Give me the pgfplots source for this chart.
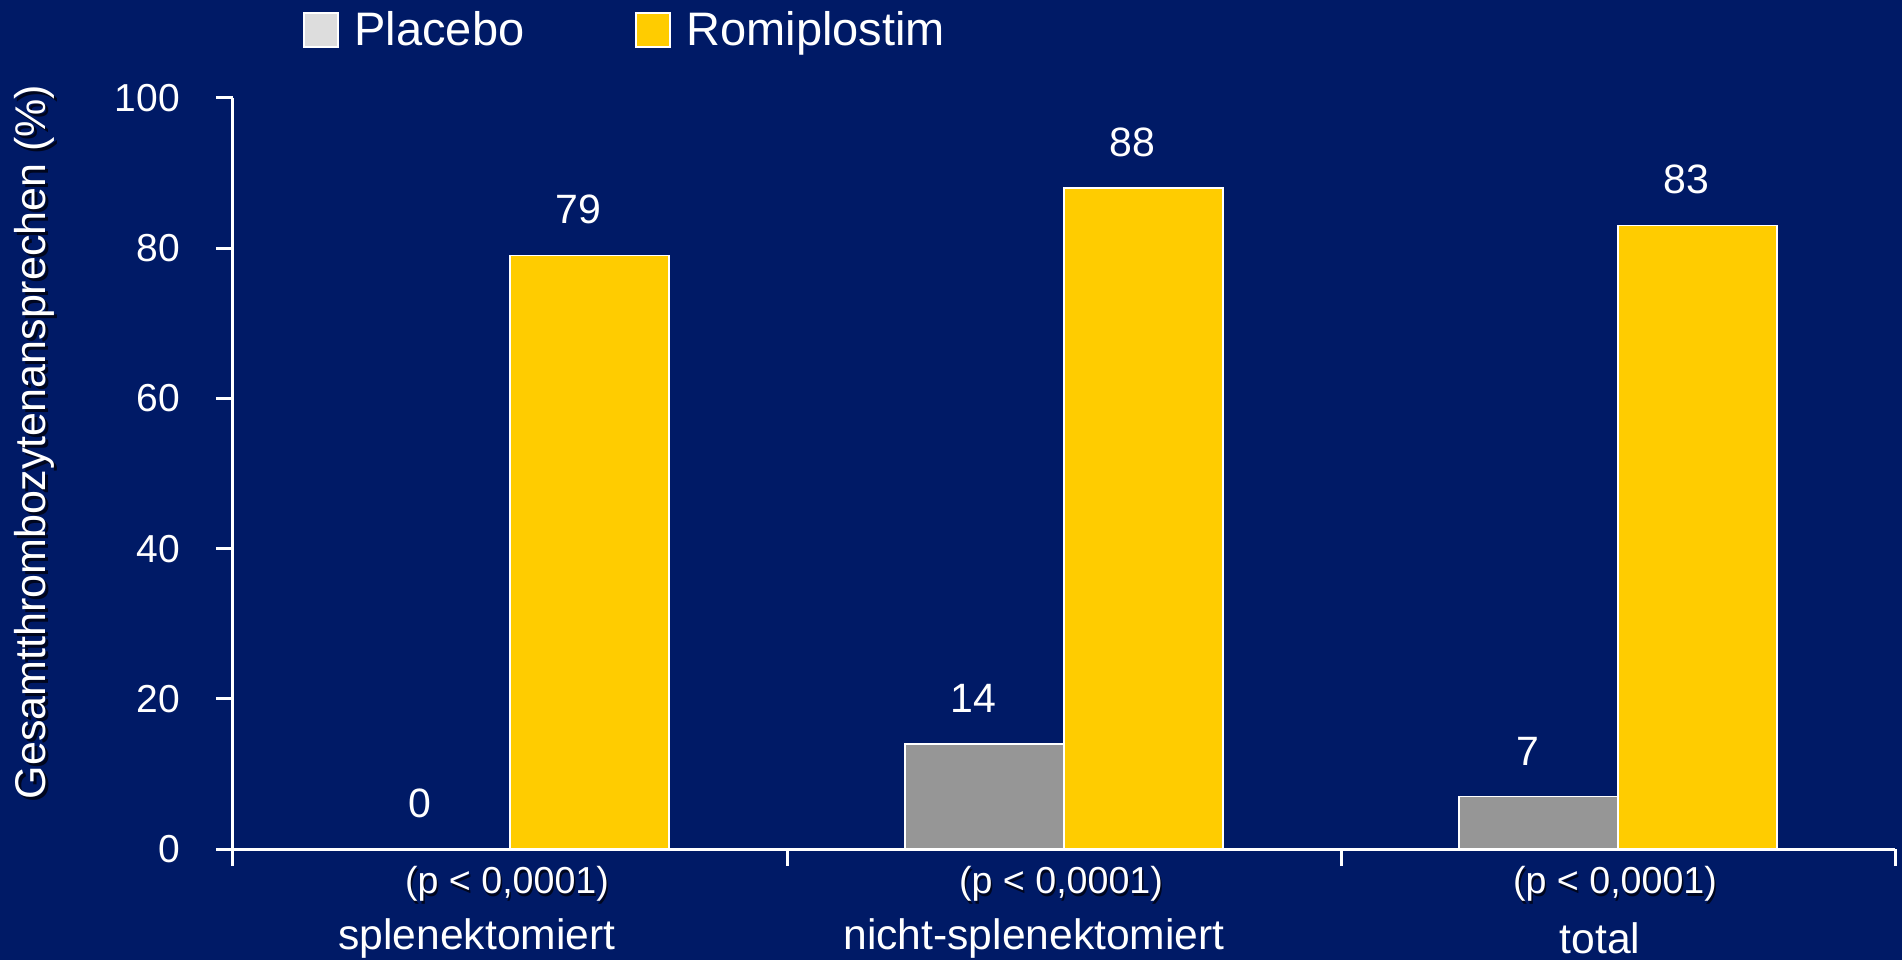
\documentclass[border=0pt]{standalone}
\usepackage{fontspec}
\setmainfont{Liberation Sans}
\usepackage{pgfplots}
\pgfplotsset{compat=1.18}

\definecolor{navy}{RGB}{0,26,102}
\definecolor{barGray}{RGB}{150,150,150}
\definecolor{legGray}{RGB}{221,221,221}
\definecolor{gold}{RGB}{255,204,0}
\definecolor{shade}{RGB}{0,6,30}

% response rates (%) per group: 0 = splenektomiert, 1 = nicht-splenektomiert, 2 = total
\pgfplotstableread{
x y
0 0
1 14
2 7
}\placebo
\pgfplotstableread{
x y
0 79
1 88
2 83
}\romiplostim

\newcommand{\shadowtext}[1]{%
  \makebox[0pt]{\raisebox{-1.3pt}{\hspace*{1.5pt}\textcolor{shade}{#1}}}\makebox[0pt]{\textcolor{white}{#1}}}

\begin{document}
\begin{tikzpicture}
\fill[navy] (0,0) rectangle (951pt,480pt);
\useasboundingbox (0,0) rectangle (951pt,480pt);

% y-axis title with a soft drop shadow
\node[rotate=90, text=shade, font=\fontsize{21.5pt}{25pt}\selectfont] at (18.5pt,257.5pt) {Gesamtthrombozytenansprechen (\%)};
\node[rotate=90, text=white, font=\fontsize{21.5pt}{25pt}\selectfont] at (17pt,259pt) {Gesamtthrombozytenansprechen (\%)};

\begin{axis}[
  at={(116.5pt,55.5pt)}, anchor=south west,
  scale only axis, width=831pt, height=375.5pt,
  xmin=-0.5, xmax=2.5, ymin=0, ymax=100,
  clip=false,
  axis x line*=bottom, axis y line*=left,
  axis line style={white, line width=1.5pt},
  ytick={0,20,...,100},
  xtick={-0.5,0.5,1.5,2.5}, xticklabels={},
  tick align=outside, major tick length=8.5pt,
  tick style={white, line width=1.5pt},
  yticklabel style={font=\fontsize{19.5pt}{23pt}\selectfont, text=white, xshift=-14.5pt},
  /pgf/number format/assume math mode=true,
  ybar, bar width=0.287,
  nodes near coords,
  every node near coord/.append style={font=\fontsize{20.5pt}{24pt}\selectfont, text=white, yshift=12pt, xshift=-5.5pt},
  legend columns=2,
  legend style={at={(0.0421,1.0905)}, anchor=west, draw=none, fill=none,
    text=white, font=\fontsize{23.5pt}{28pt}\selectfont, inner sep=0pt,
    /tikz/every odd column/.append style={column sep=6pt},
    /tikz/every even column/.append style={column sep=53.5pt}},
]
\addplot[fill=barGray, draw=white, line width=0.75pt, bar shift=-0.1435, forget plot] table[x=x, y=y] {\placebo};
\addplot[fill=gold, draw=white, line width=0.75pt, bar shift=0.1435, forget plot] table[x=x, y=y] {\romiplostim};

\addlegendimage{legend image code/.code={\draw[white, line width=0.6pt, fill=legGray] (0pt,-8.5pt) rectangle (17pt,8.5pt);}}
\addlegendentry{Placebo}
\addlegendimage{legend image code/.code={\draw[white, line width=0.6pt, fill=gold] (0pt,-8.5pt) rectangle (17pt,8.5pt);}}
\addlegendentry{Romiplostim}

\foreach \cx/\name/\dx in {0/splenektomiert/-16.5pt, 1/nicht-splenektomiert/-15pt, 2/total/-9pt}{
  \edef\tmp{\noexpand\node[font=\noexpand\fontsize{18.8pt}{23pt}\noexpand\selectfont] at (axis cs:\cx,0) [yshift=-18pt, xshift=-1.5pt] {\noexpand\shadowtext{(p < 0,0001)}};}\tmp
  \edef\tmp{\noexpand\node[font=\noexpand\fontsize{21.3pt}{25pt}\noexpand\selectfont, text=white] at (axis cs:\cx,0) [yshift=-44.5pt, xshift=\dx] {\name};}\tmp
}
\end{axis}
\end{tikzpicture}
\end{document}
